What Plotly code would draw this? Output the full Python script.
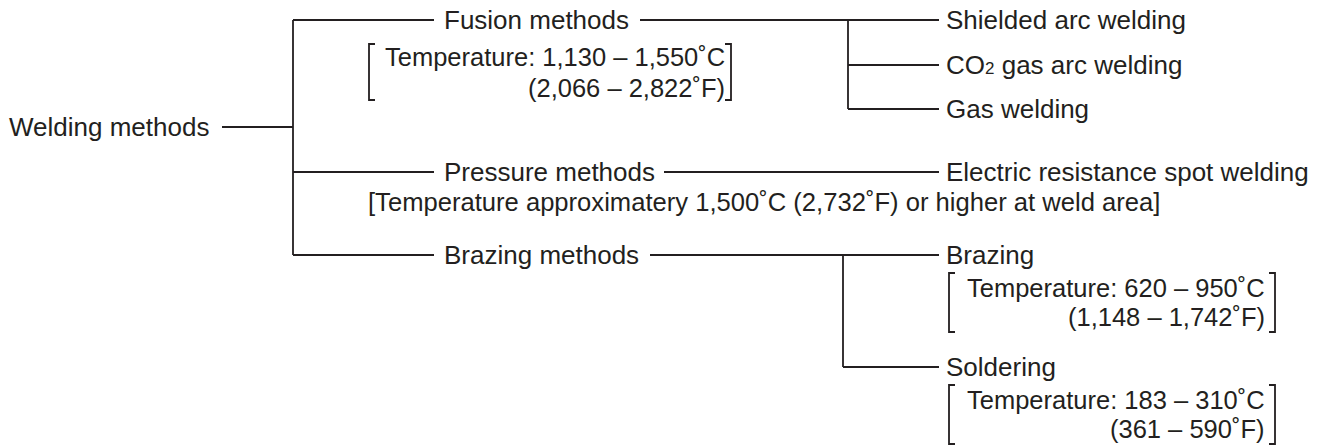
import plotly.graph_objects as go

# ---- content ----
root_label = "Welding methods"
level1_labels = ["Fusion methods", "Pressure methods", "Brazing methods"]
level1_notes = [
    ["Temperature: 1,130 – 1,550˚C", "(2,066 – 2,822˚F)"],
    ["[Temperature approximatery 1,500˚C (2,732˚F) or higher at weld area]"],
    [],
]
fusion_children = ["Shielded arc welding",
                   "CO<span style='font-size:17px'>2</span> gas arc welding",
                   "Gas welding"]
pressure_children = ["Electric resistance spot welding"]
brazing_children = ["Brazing", "Soldering"]
brazing_notes = [
    ["Temperature: 620 – 950˚C", "(1,148 – 1,742˚F)"],
    ["Temperature: 183 – 310˚C", "(361 – 590˚F)"],
]

# ---- layout positions (page pixels) ----
W, H = 1326, 447
root_y = 127
root_text_x = 8
root_line = (222, 293)
trunk_x = 293
l1_y = [20, 172, 255]
l1_text_x = 443
l1_branch_end = 434
l1_tail_start = [640, 664, 650]
fusion_vx = 848
fusion_child_y = [20, 65, 109]
pressure_child_y = [172]
brazing_vx = 843
brazing_child_y = [255, 367]
leaf_line_end = 939
leaf_text_x = 945

COLOR = "#231f20"
FS = 26
FONT = "Liberation Sans, Arial, Helvetica, sans-serif"

xs, ys = [], []


def seg(x0, y0, x1, y1):
    xs.extend([x0, x1, None])
    ys.extend([y0, y1, None])


def bracket(x, y0, y1, side):
    d = 6 if side == "left" else -6
    xs.extend([x + d, x, x, x + d, None])
    ys.extend([y0, y0, y1, y1, None])


annotations = []


def label(x, y, text, anchor="left", size=FS):
    annotations.append(dict(x=x, y=y, text=text, xref="x", yref="y",
                            xanchor=anchor, yanchor="middle", showarrow=False,
                            borderpad=0,
                            font=dict(family=FONT, size=size, color=COLOR)))


# root
label(root_text_x, root_y, root_label)
seg(root_line[0], root_y, root_line[1], root_y)
seg(trunk_x, l1_y[0], trunk_x, l1_y[-1])

# level 1
for lab, y in zip(level1_labels, l1_y):
    seg(trunk_x, y, l1_branch_end, y)
    label(l1_text_x, y, lab)

# fusion subtree
seg(l1_tail_start[0], l1_y[0], fusion_vx, l1_y[0])
seg(fusion_vx, fusion_child_y[0], fusion_vx, fusion_child_y[-1])
for lab, y in zip(fusion_children, fusion_child_y):
    seg(fusion_vx, y, leaf_line_end, y)
    label(leaf_text_x, y, lab)
# fusion note (bracketed)
label(726, 57, level1_notes[0][0], anchor="right", size=25.5)
label(726, 88, level1_notes[0][1], anchor="right", size=25.5)
bracket(369, 44, 100, "left")
bracket(731, 44, 100, "right")

# pressure subtree
seg(l1_tail_start[1], l1_y[1], leaf_line_end, l1_y[1])
label(leaf_text_x, pressure_child_y[0], pressure_children[0])
label(367, 202, level1_notes[1][0], size=25.6)

# brazing subtree
seg(l1_tail_start[2], l1_y[2], brazing_vx, l1_y[2])
seg(brazing_vx, brazing_child_y[0], brazing_vx, brazing_child_y[-1])
for lab, y, notes in zip(brazing_children, brazing_child_y, brazing_notes):
    seg(brazing_vx, y, leaf_line_end, y)
    label(leaf_text_x, y, lab)
    top = y + 18
    bot = y + 77
    label(1266, y + 33, notes[0], anchor="right", size=25.5)
    label(1266, y + 62, notes[1], anchor="right", size=25.5)
    bracket(949, top, bot, "left")
    bracket(1275, top, bot, "right")

fig = go.Figure()
fig.add_trace(go.Scatter(x=xs, y=ys, mode="lines",
                         line=dict(color=COLOR, width=1.8),
                         hoverinfo="skip", showlegend=False))
fig.update_layout(
    width=W, height=H,
    margin=dict(l=0, r=0, t=0, b=0, pad=0),
    paper_bgcolor="white", plot_bgcolor="white",
    xaxis=dict(range=[0, W], visible=False, fixedrange=True),
    yaxis=dict(range=[H, 0], visible=False, fixedrange=True),
    annotations=annotations,
    showlegend=False,
)
fig.write_html(
    "out.html",
    config={"displayModeBar": False},
    post_script="document.body.style.margin='0';document.body.style.overflow='hidden';",
)
